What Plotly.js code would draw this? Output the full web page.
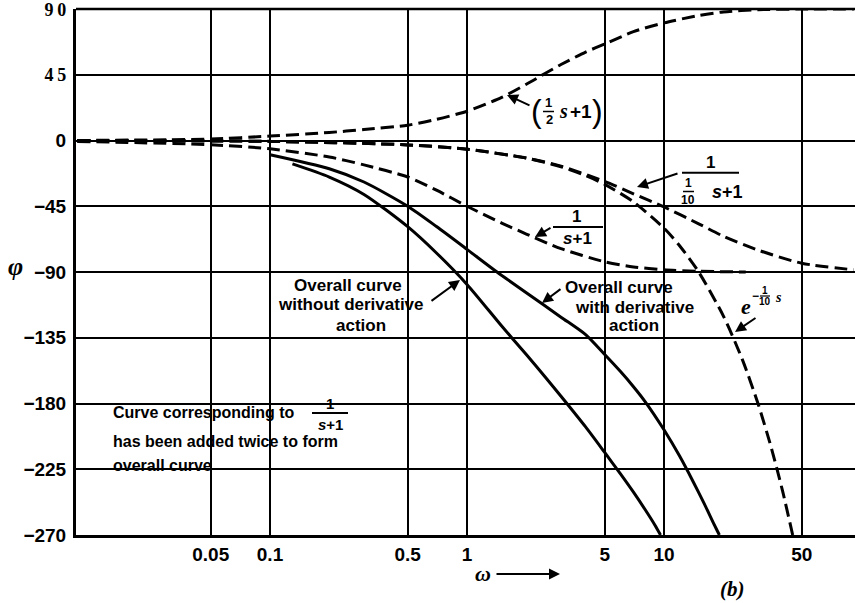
<!DOCTYPE html>
<html><head><meta charset="utf-8">
<script src="https://cdn.plot.ly/plotly-3.0.1.min.js"></script>
<style>html,body{margin:0;padding:0;background:#fff;} #chart{width:855px;height:603px;}</style>
</head><body><div id="chart"></div>
<script>
// ---------- data ----------
const wTicks = [0.05, 0.1, 0.5, 1, 5, 10, 50];
const wTickLabels = ['0.05', '0.1', '0.5', '1', '5', '10', '50'];
const phiTicks = [90, 45, 0, -45, -90, -135, -180, -225, -270];
const phiTickLabels = ['9\u20090', '4\u20095', '0', '\u221245', '\u221290', '\u2212135', '\u2212180', '\u2212225', '\u2212270'];

// (1/2 s + 1)
const wLead = [0.0105, 0.03, 0.05, 0.1, 0.2, 0.3, 0.5, 0.7, 1, 1.5, 2, 2.5, 3, 4, 5, 7, 10, 15, 20, 30, 50, 92];
const phiLead = [0, 0.5, 1, 3, 5.5, 7.5, 10.5, 14.5, 20, 29.5, 38.5, 46, 52, 60.5, 66, 74.5, 80.5, 85.5, 88, 89.5, 90, 90];

// 1/(s+1)
const wLag1 = [0.0105, 0.05, 0.1, 0.2, 0.3, 0.5, 0.7, 1, 1.5, 2, 3, 5, 7, 10, 15, 26];
const phiLag1 = [-0.6, -2.9, -5.7, -11.3, -16.7, -25, -34, -45, -56.5, -64, -74, -83, -86.5, -88.5, -89.5, -90];

// 1/(s/10+1)
const wLag10 = [0.0105, 0.1, 0.5, 1, 2, 3, 5, 7, 10, 15, 20, 30, 50, 92];
const phiLag10 = [0, -0.6, -3, -6, -12, -17.5, -28, -36.5, -45.5, -57, -65.5, -75, -84, -88.5];

// e^{-s/10}
const wDelay = [0.0105, 0.1, 0.5, 1, 2, 3, 4, 5, 7, 10, 12, 15, 20, 25, 30, 35, 40, 45];
const phiDelay = [-0.1, -0.6, -3, -6, -12, -18, -24, -30, -42, -60, -72, -90, -120, -150, -180, -210, -240, -270];

// overall curve without derivative action
const wNoDer = [0.13, 0.2, 0.3, 0.5, 0.7, 1, 1.5, 2, 2.5, 3, 4, 5, 6, 7, 8, 9, 9.6];
const phiNoDer = [-16, -25, -36.9, -59, -77, -98.5, -127, -146.5, -162, -175, -196, -213.5, -228, -240.7, -252.4, -263.3, -270];

// overall curve with derivative action
const wDer = [0.1, 0.2, 0.3, 0.5, 0.7, 1, 1.42, 2, 3, 4, 5, 6, 7, 8, 10, 12, 14, 16, 18, 19.1];
const phiDer = [-9.7, -19.3, -28.4, -45, -58.9, -74.5, -90, -104.2, -120.9, -132.9, -146.5, -158, -168.5, -178.5, -198, -216, -233, -248.5, -263, -270];

// ---------- layout geometry ----------
const W = 855, H = 603;
const M = {l: 76, r: 0, t: 9, b: 68};
const PW = W - M.l - M.r, PH = H - M.t - M.b;
const DEC = 197, X1 = 467;            // px per decade, pixel of omega = 1
const xr0 = (M.l - X1) / DEC, xr1 = xr0 + PW / DEC;
const PX = x => (x - M.l) / PW;
const PY = y => (H - M.b - y) / PH;

const SANS = "'Liberation Sans', Arial, sans-serif";
const SERIF = "'Liberation Serif', 'DejaVu Serif', serif";

const dashed = {color: '#000', width: 3, dash: '13px,6px', shape: 'spline', smoothing: 0.7};
const solid = {color: '#000', width: 3, shape: 'spline', smoothing: 0.7};
const tr = (x, y, line) => ({x, y, type: 'scatter', mode: 'lines', line, hoverinfo: 'skip'});

const traces = [
  tr(wLead, phiLead, dashed),
  tr(wLag1, phiLag1, dashed),
  tr(wLag10, phiLag10, dashed),
  tr(wDelay, phiDelay, dashed),
  tr(wNoDer, phiNoDer, solid),
  tr(wDer, phiDer, solid)
];

const ann = [];
const shapes = [];
function T(text, x, y, size, opt) {
  opt = opt || {};
  ann.push({xref: 'paper', yref: 'paper', x: PX(x), y: PY(y), text, showarrow: false,
    xanchor: opt.anchor || 'center', yanchor: 'middle',
    font: {family: opt.family || SANS, size, color: '#000', weight: opt.weight || 'bold', style: opt.style || 'normal'}});
}
function A(tx, ty, sx, sy) {
  ann.push({xref: 'paper', yref: 'paper', x: PX(tx), y: PY(ty), ax: sx - tx, ay: sy - ty, text: '',
    showarrow: true, arrowhead: 2, arrowsize: 1.1, arrowwidth: 2, arrowcolor: '#000', standoff: 0, startstandoff: 0});
}
function L(x0, y0, x1, y1, w) {
  shapes.push({type: 'line', xref: 'paper', yref: 'paper', x0: PX(x0), y0: PY(y0), x1: PX(x1), y1: PY(y1),
    line: {color: '#000', width: w || 2}, layer: 'above'});
}
function BLANK(x0, y0, x1, y1) {
  shapes.push({type: 'rect', xref: 'paper', yref: 'paper', x0: PX(x0), y0: PY(y0), x1: PX(x1), y1: PY(y1),
    fillcolor: '#fff', line: {width: 0}, layer: 'between'});
}

// top border at 90
L(M.l, M.t, W, M.t, 2.5);

// phi symbol
T('φ', 16, 266, 26, {family: SERIF, style: 'italic'});
// omega axis label
T('ω', 483, 573, 22, {family: SERIF, style: 'italic'});
A(560, 574, 495, 574);
T('(b)', 732, 589, 21, {family: SERIF, style: 'italic'});

// (1/2 s + 1)
T('(', 536, 111, 32, {weight: 'normal'});
T('1', 548, 103, 13);
L(543, 111.5, 554, 111.5, 1.5);
T('2', 549, 120, 13);
T('s', 563, 111, 20, {family: SERIF, style: 'italic'});
T('+1', 581, 111, 19);
T(')', 597, 111, 32, {weight: 'normal'});
A(507, 95, 531, 106);

// 1/(1/10 s + 1)
BLANK(669, 178, 707, 210);
T('1', 710, 163, 17);
L(682, 172.7, 739, 172.7, 2);
T('1', 688, 183, 12);
L(683, 191.5, 694, 191.5, 1.5);
T('10', 688, 200, 12);
T('<i>s</i>+1', 727, 192, 18);
A(637, 187, 679, 173);

// 1/(s+1)
T('1', 576, 216, 17);
L(553, 227, 603, 227, 2);
T('<i>s</i>+1', 577, 238, 17);
A(535, 237, 552, 227);

// e^{-s/10}
T('e', 746, 306, 22, {family: SERIF, style: 'italic'});
T('\u2212', 755, 296, 12);
T('1', 765, 290, 10);
L(760, 296, 770, 296, 1.2);
T('10', 765, 302, 10);
T('<i>s</i>', 778, 297, 14, {family: SERIF});
A(735, 332, 757, 317);

// overall curve with derivative action
BLANK(561, 278, 676, 296);
BLANK(571, 297, 695, 316);
T('Overall curve', 563, 287, 17, {anchor: 'left'});
T('with derivative', 573, 307, 17, {anchor: 'left'});
T('action', 607, 325, 17, {anchor: 'left'});
A(542, 303, 562, 288);

// overall curve without derivative action
BLANK(296, 277, 407, 293);
BLANK(280, 295, 427, 315);
BLANK(326, 316, 388, 334);
T('Overall curve', 404, 285, 17, {anchor: 'right'});
T('without derivative', 426, 305, 17, {anchor: 'right'});
T('action', 388, 325, 17, {anchor: 'right'});
A(460, 280, 430, 302);

// note at lower left
BLANK(105, 404, 365, 455);
BLANK(100, 455, 225, 475);
BLANK(307, 395, 350, 404);
T('Curve corresponding to', 111, 412, 16, {anchor: 'left'});
T('1', 330, 403, 15);
L(312, 413, 348, 413, 2);
T('<i>s</i>+1', 330, 424, 15);
T('has been added twice to form', 111, 441, 16, {anchor: 'left'});
T('overall curve', 111, 465, 16, {anchor: 'left'});

const layout = {
  width: W, height: H, margin: M, showlegend: false, hovermode: false,
  paper_bgcolor: '#fff', plot_bgcolor: '#fff',
  xaxis: {type: 'log', range: [xr0, xr1], tickmode: 'array', tickvals: wTicks, ticktext: wTickLabels,
    showgrid: true, gridcolor: '#000', gridwidth: 2, showline: true, linecolor: '#000', linewidth: 3,
    ticks: '', zeroline: false, ticklabelstandoff: 0, ticklabeloverflow: 'allow',
    tickfont: {family: SANS, size: 19, color: '#000', weight: 'bold'}},
  yaxis: {range: [-270, 90], tickmode: 'array', tickvals: phiTicks, ticktext: phiTickLabels,
    showgrid: true, gridcolor: '#000', gridwidth: 2, showline: true, linecolor: '#000', linewidth: 3,
    ticks: '', zeroline: false, ticklabelstandoff: 3, ticklabeloverflow: 'allow',
    tickfont: {family: SANS, size: 19, color: '#000', weight: 'bold'}},
  annotations: ann, shapes: shapes
};
// serif for the two upper labels
layout.yaxis.ticktext = phiTickLabels.map((t, i) => phiTicks[i] > 0
  ? '<span style="font-family:\'Liberation Serif\', serif; font-size:18px">' + t + '</span>' : t);

Plotly.newPlot('chart', traces, layout, {staticPlot: true, displayModeBar: false});
</script></body></html>
